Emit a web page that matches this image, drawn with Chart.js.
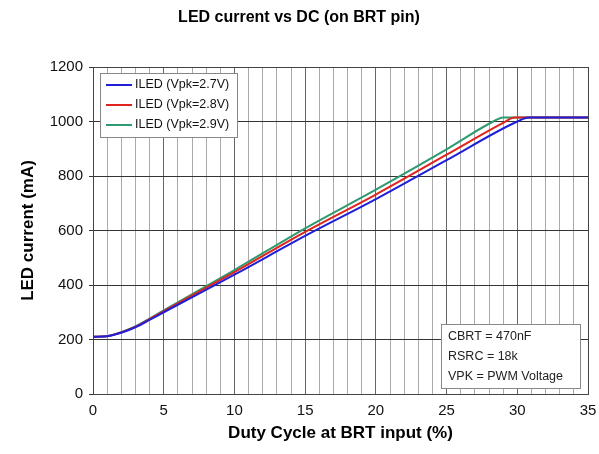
<!DOCTYPE html>
<html>
<head>
<meta charset="utf-8">
<script src="https://cdn.jsdelivr.net/npm/chart.js@4"></script>
<style>
  html, body { margin: 0; padding: 0; background: #ffffff; }
  #wrap { width: 599px; height: 454px; position: relative; }
</style>
</head>
<body>
<div id="wrap"><canvas id="ledChart" width="599" height="454"></canvas></div>
<script>
// Courbes (x = duty cycle %, y = courant LED mA)
const dutyBlue  = [0, 1, 2, 3, 4, 5, 10, 15, 20, 25, 30, 30.8, 35];
const ledBlue   = [210, 212, 225, 245, 272, 300, 438, 580, 715, 858, 1000, 1015, 1015];
const dutyRed   = [0, 1, 2, 3, 4, 5, 10, 15, 20, 25, 29, 29.8, 35];
const ledRed    = [210, 212, 226, 247, 275, 304, 447, 595, 732, 878, 995, 1015, 1015];
const dutyGreen = [0, 1, 2, 3, 4, 5, 10, 15, 20, 25, 28.3, 29, 35];
const ledGreen  = [210, 212, 227, 248, 277, 307, 455, 608, 750, 898, 1000, 1015, 1015];

const seriesLabels = ['ILED (Vpk=2.7V)', 'ILED (Vpk=2.8V)', 'ILED (Vpk=2.9V)'];
const seriesColors = ['#1f1fd8', '#e0231c', '#2e9a70'];
const noteLines = ['CBRT = 470nF', 'RSRC = 18k', 'VPK = PWM Voltage'];

const FONT = "'Liberation Sans', Arial, sans-serif";

function toPoints(xs, ys) {
    return xs.map((x, i) => ({ x: x, y: ys[i] }));
}

// titre + légende + encadré des paramètres
const decorPlugin = {
    id: 'decor',
    afterDraw(chart) {
        const ctx = chart.ctx;
        const area = chart.chartArea;
        ctx.save();

        // titre
        ctx.fillStyle = '#000';
        ctx.font = 'bold 16px ' + FONT;
        ctx.textAlign = 'center';
        ctx.textBaseline = 'middle';
        ctx.fillText('LED current vs DC (on BRT pin)', 299, 18);

        // légende en haut à gauche
        const lx = area.left + 7, ly = area.top + 6, lw = 137, lh = 64;
        ctx.fillStyle = '#fff';
        ctx.fillRect(lx, ly, lw, lh);
        ctx.strokeStyle = '#888';
        ctx.lineWidth = 1;
        ctx.strokeRect(lx + 0.5, ly + 0.5, lw, lh);
        ctx.font = '12.5px ' + FONT;
        ctx.textAlign = 'left';
        seriesLabels.forEach((lab, i) => {
            const yy = ly + 12 + i * 20;
            ctx.strokeStyle = seriesColors[i];
            ctx.lineWidth = 2;
            ctx.beginPath();
            ctx.moveTo(lx + 6, yy);
            ctx.lineTo(lx + 32, yy);
            ctx.stroke();
            ctx.fillStyle = '#111';
            ctx.fillText(lab, lx + 35, yy);
        });

        // encadré en bas à droite
        const bx = 441, by = 324, bw = 139, bh = 64;
        ctx.fillStyle = '#fff';
        ctx.fillRect(bx, by, bw, bh);
        ctx.strokeStyle = '#888';
        ctx.lineWidth = 1;
        ctx.strokeRect(bx + 0.5, by + 0.5, bw, bh);
        ctx.fillStyle = '#222';
        noteLines.forEach((t, i) => {
            ctx.fillText(t, bx + 7, by + 13 + i * 20);
        });

        // cadre du tracé
        ctx.strokeStyle = '#444';
        ctx.lineWidth = 1;
        ctx.strokeRect(area.left + 0.5, area.top + 0.5, area.right - area.left, area.bottom - area.top);
        ctx.restore();
    }
};

const ds = [
    toPoints(dutyBlue, ledBlue),
    toPoints(dutyRed, ledRed),
    toPoints(dutyGreen, ledGreen)
];

new Chart(document.getElementById('ledChart'), {
    type: 'line',
    data: {
        datasets: ds.map((pts, i) => ({
            label: seriesLabels[i],
            data: pts,
            borderColor: seriesColors[i],
            backgroundColor: seriesColors[i],
            borderWidth: 2,
            pointRadius: 0,
            cubicInterpolationMode: 'monotone',
            fill: false
        }))
    },
    options: {
        responsive: false,
        animation: false,
        layout: { padding: { top: 67, right: 11, left: 18, bottom: 10 } },
        plugins: {
            legend: { display: false },
            title: { display: false },
            tooltip: { enabled: false }
        },
        scales: {
            x: {
                type: 'linear',
                min: 0,
                max: 35,
                afterFit(scale) {
                    scale.height = 50;
                    scale.paddingLeft = 0;
                    scale.paddingRight = 0;
                },
                border: { display: false },
                grid: {
                    color: ctx => (ctx.tick && ctx.tick.value % 5 === 0) ? '#666' : '#aaa',
                    lineWidth: 1,
                    drawTicks: false
                },
                ticks: {
                    stepSize: 1,
                    autoSkip: false,
                    maxRotation: 0,
                    padding: 8,
                    color: '#111',
                    font: { family: FONT, size: 15 },
                    callback: v => (v % 5 === 0 ? String(v) : '')
                },
                title: {
                    display: true,
                    text: 'Duty Cycle at BRT input (%)',
                    color: '#000',
                    font: { family: FONT, size: 17, weight: 'bold' },
                    padding: { top: 0, bottom: 0 }
                }
            },
            y: {
                min: 0,
                max: 1200,
                afterFit(scale) { scale.width = 75; },
                border: { display: false },
                grid: {
                    color: '#333',
                    lineWidth: 1,
                    tickLength: 4
                },
                ticks: {
                    stepSize: 200,
                    padding: 6,
                    color: '#111',
                    font: { family: FONT, size: 15 },
                    callback: v => String(v)
                },
                title: {
                    display: true,
                    text: 'LED current (mA)',
                    color: '#000',
                    font: { family: FONT, size: 17, weight: 'bold' },
                    padding: { top: 0, bottom: 0 }
                }
            }
        }
    },
    plugins: [decorPlugin]
});
</script>
</body>
</html>
